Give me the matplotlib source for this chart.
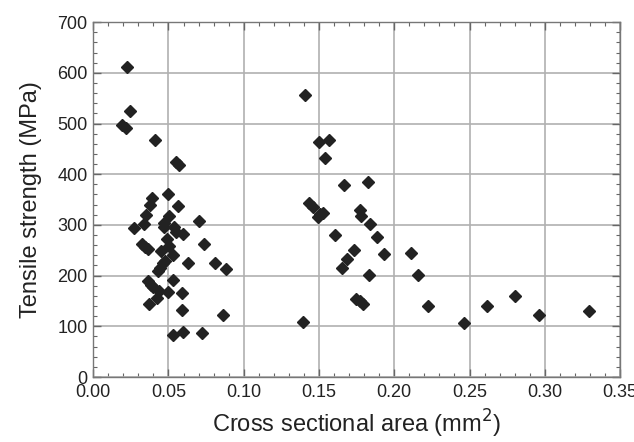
import numpy as np
import matplotlib.pyplot as plt
from matplotlib.ticker import MultipleLocator

plt.rcParams['font.family'] = ['Liberation Sans', 'DejaVu Sans']

# cross sectional area (mm2) and tensile strength (MPa)
area = [0.0224, 0.0242, 0.0193, 0.0215, 0.041, 0.0549, 0.0571, 0.0392, 0.0498,
        0.0379, 0.0564, 0.0354, 0.0503, 0.0339, 0.047, 0.0472, 0.0706, 0.0268,
        0.0538, 0.0547, 0.0594, 0.0491, 0.0733, 0.0321, 0.0341, 0.0365, 0.0505,
        0.0452, 0.0529, 0.0627, 0.0808, 0.0879, 0.0478, 0.0461, 0.0443, 0.0432,
        0.0532, 0.0365, 0.0383, 0.0398, 0.0438, 0.0498, 0.0587, 0.0423, 0.0372,
        0.0587, 0.0861, 0.0533, 0.0599, 0.0724,
        0.141, 0.150, 0.1565, 0.154, 0.1665, 0.1824, 0.1434, 0.146, 0.1505,
        0.1527, 0.1494, 0.177, 0.1782, 0.1842, 0.1605, 0.1886, 0.1731, 0.1935,
        0.2108, 0.1687, 0.1651, 0.1831, 0.2156, 0.1747, 0.1793, 0.177, 0.2227,
        0.1392, 0.2466, 0.2619, 0.2802, 0.2959, 0.3296]
strength = [611, 525, 498, 492, 467, 424, 419, 354, 360,
            339, 337, 319, 317, 301, 304, 296, 307, 293,
            296, 286, 283, 272, 263, 263, 256, 252, 258,
            249, 240, 224, 225, 213, 229, 224, 216, 209,
            192, 189, 181, 177, 170, 168, 166, 155, 144,
            132, 123, 83, 88, 87,
            557, 463, 467, 432, 379, 384, 343, 335, 322,
            323, 316, 329, 317, 301, 280, 276, 250, 243,
            245, 232, 216, 202, 201, 154, 144, 149, 140,
            108, 106, 140, 159, 122, 130]

fig = plt.figure(figsize=(6.34, 4.42), dpi=100)
ax = fig.add_axes([0.147, 0.147, 0.831, 0.803])

ax.plot(area, strength, linestyle='none', marker='D', markersize=6.3,
        color='#222222', zorder=3)

ax.set_xlim(0, 0.35)
ax.set_ylim(0, 700)
ax.xaxis.set_major_locator(MultipleLocator(0.05))
ax.xaxis.set_minor_locator(MultipleLocator(0.01))
ax.yaxis.set_major_locator(MultipleLocator(100))
ax.yaxis.set_minor_locator(MultipleLocator(20))
ax.xaxis.set_major_formatter(plt.FormatStrFormatter('%.2f'))

ax.grid(True, which='major', color='#b0b0b0', linewidth=1.2)
ax.set_axisbelow(True)
ax.tick_params(which='both', direction='in', top=True, right=True,
               colors='#666666', labelcolor='#222222', labelsize=13)
ax.tick_params(which='major', length=6, width=1)
ax.tick_params(which='minor', length=3, width=0.8)
ax.tick_params(axis='x', pad=5)
ax.tick_params(axis='y', pad=4)
for s in ax.spines.values():
    s.set_color('#777777')
    s.set_linewidth(1)

ax.set_xlabel('Cross sectional area (mm$^2$)', fontsize=17, color='#222222',
              labelpad=5)
ax.set_ylabel('Tensile strength (MPa)', fontsize=17, color='#222222',
              labelpad=11)

fig.savefig('out.png', dpi=100)
